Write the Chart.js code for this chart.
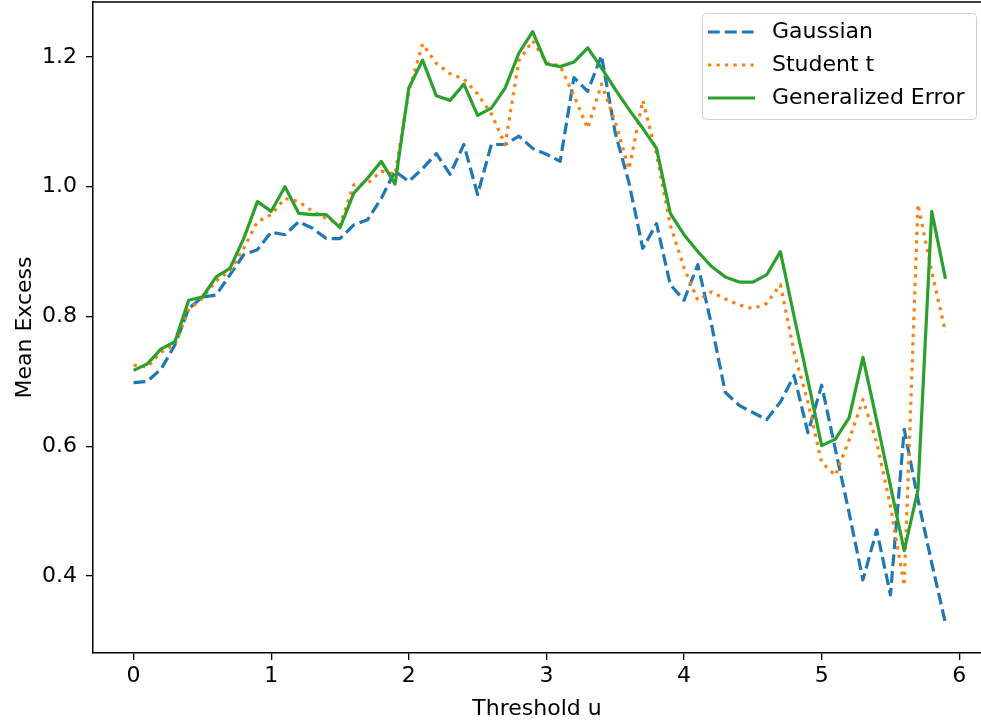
<!DOCTYPE html>
<html>
<head>
<meta charset="utf-8">
<script src="https://cdn.jsdelivr.net/npm/chart.js@4.4.1/dist/chart.umd.min.js"></script>
<style>
  html, body { margin: 0; padding: 0; background: #fff; overflow: hidden; }
  #wrap { position: relative; width: 981px; height: 723px; }
</style>
</head>
<body>
<div id="wrap"><canvas id="me-chart" width="981" height="723"></canvas></div>
<script>
/* Mean excess plot: threshold u vs mean excess, three fitted distributions */

const thresholds = [
  0.0, 0.1, 0.2, 0.3, 0.4, 0.5, 0.6, 0.7, 0.8, 0.9,
  1.0, 1.1, 1.2, 1.3, 1.4, 1.5, 1.6, 1.7, 1.8, 1.9,
  2.0, 2.1, 2.2, 2.3, 2.4, 2.5, 2.6, 2.7, 2.8, 2.9,
  3.0, 3.1, 3.2, 3.3, 3.4, 3.5, 3.6, 3.7, 3.8, 3.9,
  4.0, 4.1, 4.2, 4.3, 4.4, 4.5, 4.6, 4.7, 4.8, 4.9,
  5.0, 5.1, 5.2, 5.3, 5.4, 5.5, 5.6, 5.7, 5.8, 5.9
];

const gaussian = [
  0.698, 0.700, 0.719, 0.756, 0.812, 0.830, 0.833, 0.864, 0.895, 0.903,
  0.930, 0.926, 0.946, 0.936, 0.920, 0.920, 0.941, 0.949, 0.982, 1.024,
  1.008, 1.028, 1.051, 1.019, 1.065, 0.988, 1.065, 1.065, 1.078, 1.059,
  1.050, 1.039, 1.168, 1.147, 1.202, 1.083, 1.006, 0.905, 0.943, 0.849,
  0.825, 0.880, 0.787, 0.683, 0.663, 0.652, 0.641, 0.668, 0.709, 0.621,
  0.694, 0.595, 0.497, 0.394, 0.471, 0.371, 0.626, 0.518, 0.420, 0.327
];

const studentT = [
  0.725, 0.722, 0.745, 0.757, 0.810, 0.828, 0.855, 0.870, 0.905, 0.946,
  0.957, 0.982, 0.977, 0.962, 0.951, 0.941, 1.003, 1.005, 1.024, 1.019,
  1.147, 1.220, 1.190, 1.174, 1.166, 1.143, 1.112, 1.065, 1.194, 1.225,
  1.191, 1.186, 1.140, 1.090, 1.158, 1.100, 1.027, 1.133, 1.050, 0.941,
  0.875, 0.825, 0.838, 0.827, 0.818, 0.812, 0.820, 0.849, 0.745, 0.668,
  0.575, 0.555, 0.610, 0.672, 0.606, 0.508, 0.385, 0.973, 0.869, 0.776
];

const generalizedError = [
  0.717, 0.727, 0.750, 0.761, 0.825, 0.830, 0.861, 0.874, 0.920, 0.977,
  0.962, 1.000, 0.959, 0.957, 0.957, 0.937, 0.990, 1.013, 1.039, 1.004,
  1.152, 1.195, 1.140, 1.133, 1.158, 1.110, 1.121, 1.152, 1.206, 1.239,
  1.189, 1.185, 1.192, 1.214, 1.183, 1.150, 1.119, 1.090, 1.059, 0.959,
  0.926, 0.900, 0.877, 0.861, 0.853, 0.853, 0.864, 0.900, 0.800, 0.702,
  0.601, 0.611, 0.644, 0.737, 0.640, 0.539, 0.439, 0.533, 0.962, 0.858
];

const xTicks = [0, 1, 2, 3, 4, 5, 6];
const yTicks = [0.4, 0.6, 0.8, 1.0, 1.2];

const FONT = { family: 'DejaVu Sans', size: 22 };
const LW = 3.2;

function toPoints(ys) {
  return thresholds.map((x, i) => ({ x: x, y: ys[i] }));
}

/* matplotlib-style frame: top spine only, the right one is off the crop */
const topSpine = {
  id: 'topSpine',
  afterDraw(chart) {
    const { ctx, chartArea } = chart;
    ctx.save();
    ctx.strokeStyle = '#000';
    ctx.lineWidth = 1.5;
    ctx.beginPath();
    ctx.moveTo(chartArea.left, chartArea.top);
    ctx.lineTo(chart.width, chartArea.top);
    ctx.stroke();
    ctx.restore();
  }
};

/* legend box in the upper right, line handles like matplotlib */
const lineLegend = {
  id: 'lineLegend',
  afterDraw(chart) {
    const { ctx, chartArea } = chart;
    const w = 274, h = 106;
    const x0 = chartArea.right - 5 - w;
    const y0 = chartArea.top + 11;
    ctx.save();
    ctx.beginPath();
    ctx.roundRect(x0 + 0.5, y0 + 0.5, w, h, 4);
    ctx.fillStyle = 'rgba(255,255,255,0.8)';
    ctx.fill();
    ctx.strokeStyle = '#d0d0d0';
    ctx.lineWidth = 1;
    ctx.stroke();

    ctx.font = FONT.size + 'px ' + FONT.family;
    ctx.textBaseline = 'middle';
    ctx.textAlign = 'left';
    chart.data.datasets.forEach((ds, i) => {
      const y = y0 + 19 + i * 33;
      ctx.beginPath();
      ctx.setLineDash(ds.borderDash || []);
      ctx.lineCap = 'butt';
      ctx.strokeStyle = ds.borderColor;
      ctx.lineWidth = LW;
      ctx.moveTo(x0 + 6, y);
      ctx.lineTo(x0 + 53, y);
      ctx.stroke();
      ctx.setLineDash([]);
      ctx.fillStyle = '#000';
      ctx.fillText(ds.label, x0 + 70, y);
    });
    ctx.restore();
  }
};

/* no automatic label overhang padding, the plot box is fixed */
function fixPadding(s) {
  s.paddingTop = 0;
  s.paddingBottom = 0;
  s.paddingLeft = 0;
  s.paddingRight = 0;
}

const ctx = document.getElementById('me-chart');
new Chart(ctx, {
  type: 'line',
  data: {
    datasets: [
      {
        label: 'Gaussian',
        data: toPoints(gaussian),
        borderColor: '#1f77b4',
        borderDash: [11.8, 5.1],
        order: 3
      },
      {
        label: 'Student t',
        data: toPoints(studentT),
        borderColor: '#ff7f0e',
        borderDash: [3.2, 5.3],
        order: 2
      },
      {
        label: 'Generalized Error',
        data: toPoints(generalizedError),
        borderColor: '#2ca02c',
        order: 1
      }
    ]
  },
  options: {
    responsive: false,
    animation: false,
    devicePixelRatio: 1,
    layout: { padding: { top: 2, right: 0, left: 0, bottom: 0 } },
    elements: {
      point: { radius: 0 },
      line: { borderWidth: LW, tension: 0, fill: false, borderCapStyle: 'butt', borderJoinStyle: 'round' }
    },
    plugins: {
      legend: { display: false },
      tooltip: { enabled: false }
    },
    scales: {
      x: {
        type: 'linear',
        min: -0.295,
        max: 6.158,
        afterFit: (s) => { s.height = 70; fixPadding(s); },
        afterBuildTicks: (s) => { s.ticks = xTicks.map(v => ({ value: v })); },
        grid: { drawOnChartArea: false, drawTicks: true, tickLength: 7, color: '#000', lineWidth: 1.3 },
        border: { display: true, color: '#000', width: 1.5 },
        ticks: { color: '#000', font: FONT, padding: 3, maxRotation: 0, callback: (v) => String(v) },
        title: { display: true, text: 'Threshold u', color: '#000', font: FONT, padding: { top: 0, bottom: 1 } }
      },
      y: {
        type: 'linear',
        min: 0.2814,
        max: 1.2846,
        afterFit: (s) => { s.width = 93; fixPadding(s); },
        afterBuildTicks: (s) => { s.ticks = yTicks.map(v => ({ value: v })); },
        grid: { drawOnChartArea: false, drawTicks: true, tickLength: 7, color: '#000', lineWidth: 1.3 },
        border: { display: true, color: '#000', width: 1.5 },
        ticks: { color: '#000', font: FONT, padding: 9, callback: (v) => Number(v).toFixed(1) },
        title: { display: true, text: 'Mean Excess', color: '#000', font: FONT, padding: { top: 12, bottom: 0 } }
      }
    }
  },
  plugins: [topSpine, lineLegend]
});
</script>
</body>
</html>
